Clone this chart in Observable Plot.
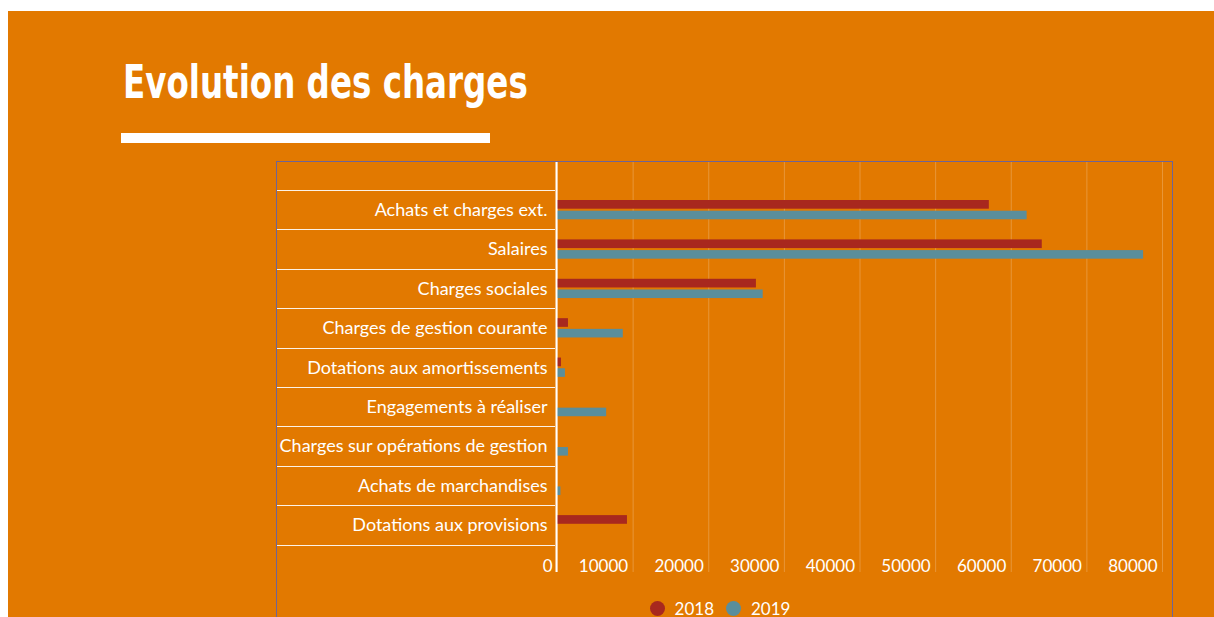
<!DOCTYPE html>
<html><head><meta charset="utf-8">
<script src="https://cdn.jsdelivr.net/npm/d3@7"></script>
<script src="https://cdn.jsdelivr.net/npm/@observablehq/plot@0.6"></script>
<style>
html,body{margin:0;padding:0;background:#fff;overflow:hidden;width:1214px;height:617px;}
#bg{position:absolute;left:8px;top:11px;width:1206px;height:700px;background:#E27900;}
#title{position:absolute;left:115px;top:48px;margin:0;font-family:"DejaVu Sans Condensed",sans-serif;font-stretch:condensed;font-weight:bold;font-size:46px;line-height:46px;color:#fff;white-space:nowrap;transform:scaleX(0.786);transform-origin:0 0;}
#bar{position:absolute;left:113px;top:122px;width:369px;height:10px;background:#fff;}
#box{position:absolute;left:268px;top:150px;width:895px;height:600px;border:1px solid #6E6496;}
#legend{display:flex;justify-content:center;align-items:center;margin-top:16px;padding-right:9px;font-family:Lato,sans-serif;font-size:17px;color:#fff;}
#legend .item{display:flex;align-items:center;margin:0 6px;}
#legend .sw{width:15px;height:15px;border-radius:50%;margin-right:10px;}
</style>
</head><body>
<div id="bg">
  <div id="title">Evolution des charges</div>
  <div id="bar"></div>
  <div id="box"><div id="chart"></div><div id="legend"></div></div>
</div>
<script>
const categories = [
  "Achats et charges ext.",
  "Salaires",
  "Charges sociales",
  "Charges de gestion courante",
  "Dotations aux amortissements",
  "Engagements à réaliser",
  "Charges sur opérations de gestion",
  "Achats de marchandises",
  "Dotations aux provisions"
];
const values2018 = [57100, 64100, 26300, 1450, 530, 0, 0, 0, 9250];
const values2019 = [62100, 77500, 27200, 8700, 1050, 6500, 1450, 450, 0];
const years = ["2018", "2019"];
const colors = ["#A8281E", "#5A8E9B"];
const xTicks = [0, 10000, 20000, 30000, 40000, 50000, 60000, 70000, 80000];

const rows2018 = categories.map((c, i) => ({category: c, year: "2018", value: values2018[i]}));
const rows2019 = categories.map((c, i) => ({category: c, year: "2019", value: values2019[i]}));

const chart = Plot.plot({
  width: 895,
  height: 420,
  marginLeft: 280,
  marginRight: 10,
  marginTop: 0,
  marginBottom: 10,
  style: {background: "transparent", color: "#fff", fontFamily: "Lato, sans-serif", fontSize: "17px", overflow: "visible"},
  x: {domain: [0, 80000], label: null},
  y: {domain: categories, padding: 0, round: false, insetTop: 28, insetBottom: 27.5, label: null},
  color: {domain: years, range: colors},
  marks: [
    Plot.gridX(xTicks, {stroke: "#fff", strokeOpacity: 0.22, strokeWidth: 1}),
    Plot.barX(rows2018, {x: "value", y: "category", fill: "year", insetTop: 10, insetBottom: 20.7}),
    Plot.barX(rows2019, {x: "value", y: "category", fill: "year", insetTop: 20.7, insetBottom: 10.1}),
    Plot.ruleX([0], {stroke: "#fff", strokeWidth: 2, dx: -1}),
    Plot.axisY({tickSize: 0, tickPadding: 10, fontSize: 18, label: null}),
    Plot.axisX(xTicks, {tickSize: 0, anchor: "bottom", dy: -22, dx: -5, textAnchor: "end", fontSize: 17, label: null, tickFormat: d => String(d)})
  ]
});
document.getElementById("chart").appendChild(chart);

// row separators in the label column, placed with the plot's own y scale
const y = chart.scale("y");
const bounds = categories.map(c => y.apply(c)).concat([y.apply(categories[categories.length - 1]) + y.bandwidth]);
d3.select(chart).append("g")
  .selectAll("line").data(bounds).join("line")
  .attr("x1", 0).attr("x2", 278)
  .attr("y1", d => Math.round(d) + 0.5).attr("y2", d => Math.round(d) + 0.5)
  .attr("stroke", "#fff").attr("stroke-opacity", 0.9);

const legend = d3.select("#legend");
years.forEach((yr, i) => {
  const it = legend.append("div").attr("class", "item");
  it.append("div").attr("class", "sw").style("background", colors[i]);
  it.append("span").text(yr);
});
</script>
</body></html>
